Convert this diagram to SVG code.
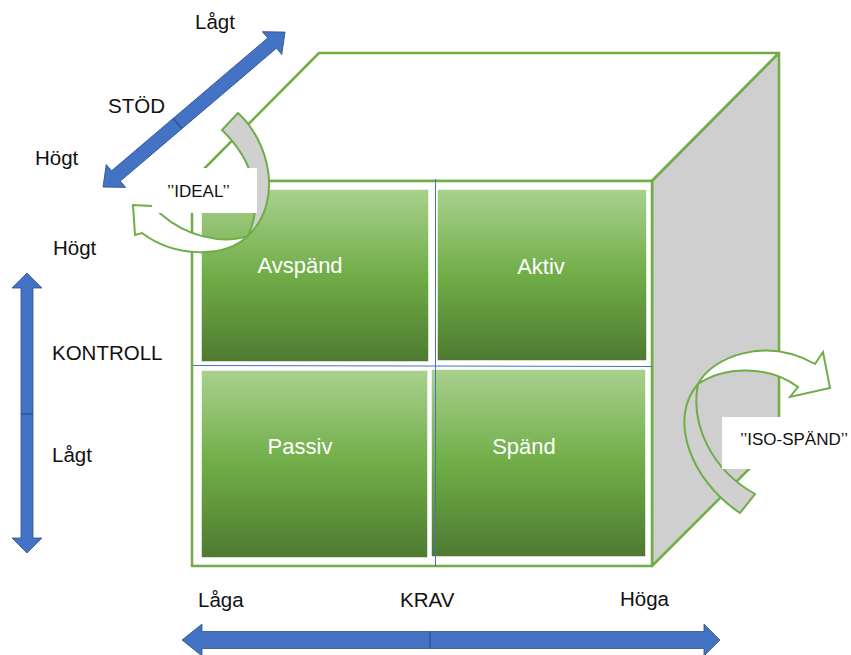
<svg xmlns="http://www.w3.org/2000/svg" width="851" height="655" viewBox="0 0 851 655">
  <defs>
    <linearGradient id="qg" x1="0" y1="0" x2="0" y2="1">
      <stop offset="0" stop-color="#a9d18e"/>
      <stop offset="0.5" stop-color="#70ad47"/>
      <stop offset="1" stop-color="#4e7a30"/>
    </linearGradient>
    <style>
      .face{fill:#fff;stroke:#70ad47;stroke-width:2.5;stroke-linejoin:round}
      .side{fill:#cfcfcf;stroke:#70ad47;stroke-width:2.5;stroke-linejoin:round}
      .q{fill:url(#qg);stroke:#fff;stroke-width:1.5}
      .ql{font-family:"Liberation Sans",Arial,sans-serif;font-size:22px;fill:#fff;text-anchor:middle}
      .lbl{font-family:"Liberation Sans",Arial,sans-serif;font-size:20.5px;fill:#111}
      .tag{font-family:"Liberation Sans",Arial,sans-serif;font-size:17px;fill:#111}
      .grid{stroke:#4472c4;stroke-width:1;fill:none}
      .ax{fill:#4472c4;stroke:#2f528f;stroke-width:0.8;stroke-linejoin:miter}
      .div{stroke:#2f528f;stroke-width:1.5}
      .band{fill:#d0d0d0;stroke:#70ad47;stroke-width:2;stroke-linejoin:miter}
      .rib{fill:#fff;stroke:#70ad47;stroke-width:2;stroke-linejoin:miter}
      .box{fill:#fff}
    </style>
  </defs>

  <g id="cube">
    <polygon class="face" points="192,181 319,53 779,53 652,181"/>
    <polygon class="side" points="652,181 779,53 779,439 652,566"/>
    <rect class="face" x="192" y="181" width="460" height="385"/>
  </g>

  <g id="q-avspand">
    <rect class="q" x="201" y="189" width="228" height="173"/>
    <text class="ql" x="300" y="273">Avspänd</text>
  </g>
  <g id="q-aktiv">
    <rect class="q" x="437" y="189" width="210" height="172"/>
    <text class="ql" x="541" y="274">Aktiv</text>
  </g>
  <g id="q-passiv">
    <rect class="q" x="201" y="370" width="227" height="188"/>
    <text class="ql" x="300" y="454">Passiv</text>
  </g>
  <g id="q-spand">
    <rect class="q" x="431" y="369" width="215" height="188"/>
    <text class="ql" x="524" y="454">Spänd</text>
  </g>

  <g id="grid-lines">
    <line class="grid" x1="435.5" y1="179" x2="435.5" y2="566"/>
    <line class="grid" x1="193" y1="365.5" x2="652" y2="366.5"/>
  </g>

  <g id="ideal">
    <path class="band" d="M222,130 L238,113 C268,140 285,200 248,236 C262,205 258,165 222,130 Z"/>
    <path class="rib" d="M248,236 C220,245 185,235 162,215 L152,206 L133,205 L135,235 L142,233 C175,258 225,258 248,236 Z"/>
    <rect class="box" x="152" y="168" width="105" height="45"/>
    <text class="tag" x="167" y="197" font-size="18">’’IDEAL’’</text>
  </g>

  <g id="iso-spand">
    <path class="band" d="M740,513 C690,480 668,418 698,384 C690,425 712,470 755,494 Z"/>
    <path class="rib" d="M698,384 C712,357 765,336 815,364 L823,352 L830,388 L790,397 L798,387 C768,365 725,366 698,384 Z"/>
    <rect class="box" x="722" y="417" width="129" height="52"/>
    <text class="tag" x="740" y="445">’’ISO-SPÄND’’</text>
  </g>

  <g id="connectors">
    <g id="axis-stod" transform="translate(103,187) rotate(-40.4)">
      <polygon class="ax" points="0,0 17,-15 17,-6.75 222,-6.75 222,-15 239,0 222,15 222,6.75 17,6.75 17,15"/>
      <line class="div" x1="98" y1="-6.5" x2="98" y2="6.5"/>
    </g>
    <g id="axis-kontroll">
      <polygon class="ax" points="27,273 42,288 33,288 33,538 42,538 27,553 12,538 21,538 21,288 12,288"/>
      <line class="div" x1="21" y1="414" x2="33" y2="414"/>
    </g>
    <g id="axis-krav">
      <polygon class="ax" points="182,640 202,624 202,631.5 704,631.5 704,624 720,640 704,656 704,648.5 202,648.5 202,656"/>
      <line class="div" x1="430" y1="631.5" x2="430" y2="648.5"/>
    </g>
  </g>

  <g id="labels">
    <text class="lbl" x="195" y="29">Lågt</text>
    <text class="lbl" x="108" y="113">STÖD</text>
    <text class="lbl" x="35" y="165">Högt</text>
    <text class="lbl" x="53" y="255">Högt</text>
    <text class="lbl" x="52" y="360">KONTROLL</text>
    <text class="lbl" x="52" y="462">Lågt</text>
    <text class="lbl" x="198" y="607">Låga</text>
    <text class="lbl" x="400" y="607">KRAV</text>
    <text class="lbl" x="620" y="606">Höga</text>
  </g>
</svg>
